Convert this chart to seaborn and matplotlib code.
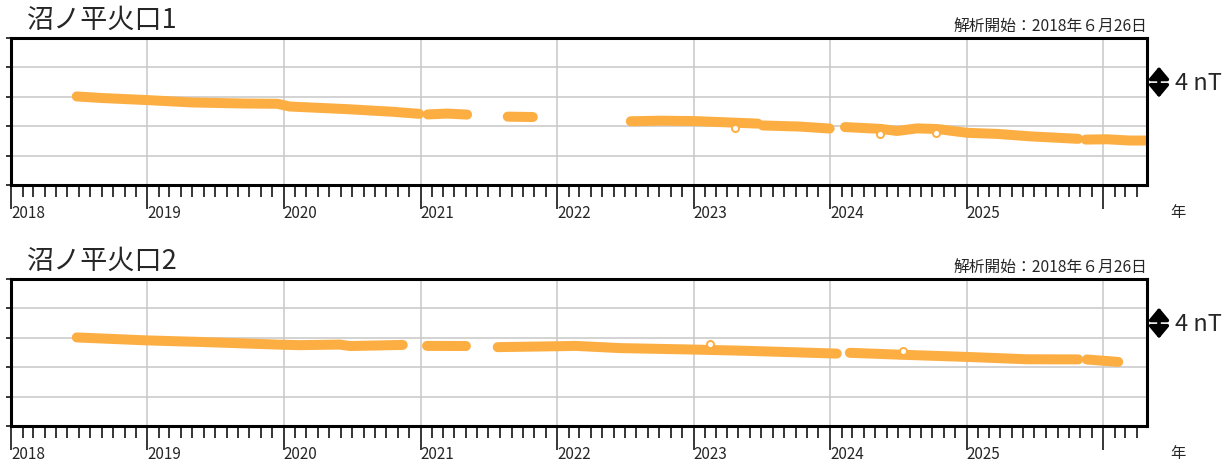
import matplotlib
matplotlib.use("Agg")
import matplotlib.pyplot as plt
import matplotlib.dates as mdates
import matplotlib.transforms as mtransforms
import numpy as np
import pandas as pd
import seaborn as sns

# ---------------- data (relative field, nT) ----------------
titles = ["沼ノ平火口1", "沼ノ平火口2"]
start_label = "解析開始：2018年６月26日"
scale_label = "4 nT"
year_ticks = ["2018-01-01", "2019-01-01", "2020-01-01", "2021-01-01", "2022-01-01",
              "2023-01-01", "2024-01-01", "2025-01-01", "2026-01-01"]
year_labels = ["2018", "2019", "2020", "2021", "2022", "2023", "2024", "2025", ""]
x_start = "2018-01-01"
x_end = "2026-04-28"

# Panel 1 (沼ノ平火口1)
p1_dates = ["2018-06-26", "2018-08-26", "2019-01-01", "2019-05-01", "2019-09-12",
            "2019-12-15", "2020-01-16", "2020-06-18", "2020-10-19", "2020-12-28",
            "2021-01-20", "2021-03-12", "2021-05-05",
            "2021-08-22", "2021-10-28",
            "2022-07-17", "2022-10-03", "2023-01-01", "2023-05-06", "2023-06-22",
            "2023-07-05", "2023-10-12", "2023-12-31",
            "2024-02-10", "2024-05-14", "2024-06-28", "2024-08-21", "2024-10-13",
            "2025-01-02", "2025-03-24", "2025-06-19", "2025-10-26",
            "2025-11-15", "2026-01-11", "2026-03-13", "2026-04-27"]
p1_values = [12.05, 11.85, 11.55, 11.23, 11.09,
             11.05, 10.68, 10.32, 9.96, 9.68,
             9.60, 9.72, 9.58,
             9.30, 9.25,
             8.67, 8.75, 8.70, 8.45, 8.35,
             8.10, 7.95, 7.68,
             7.88, 7.64, 7.35, 7.70, 7.62,
             7.10, 6.95, 6.62, 6.28,
             6.18, 6.22, 6.05, 6.05]
p1_segments = [1] * 10 + [2] * 3 + [3] * 2 + [4] * 5 + [5] * 3 + [6] * 9 + [7] * 4
p1_out_dates = ["2023-04-22", "2024-05-13", "2024-10-11"]
p1_out_values = [7.75, 6.93, 7.09]

# Panel 2 (沼ノ平火口2)
p2_dates = ["2018-06-26", "2018-12-28", "2019-05-21", "2020-01-01", "2020-02-12",
            "2020-05-29", "2020-06-26", "2020-11-14",
            "2021-01-18", "2021-05-02",
            "2021-07-26", "2022-01-01", "2022-02-18", "2022-06-18", "2023-01-01",
            "2023-05-06", "2023-09-16", "2024-01-19",
            "2024-02-23", "2024-07-07", "2025-01-01", "2025-06-11", "2025-10-26",
            "2025-11-18", "2026-02-10"]
p2_values = [12.05, 11.65, 11.44, 11.05, 11.00,
             11.08, 10.88, 11.03,
             10.90, 10.88,
             10.73, 10.85, 10.90, 10.60, 10.40,
             10.25, 10.05, 9.85,
             9.96, 9.70, 9.40, 9.08, 9.06,
             9.05, 8.72]
p2_segments = [1] * 8 + [2] * 2 + [3] * 8 + [4] * 5 + [5] * 2
p2_out_dates = ["2023-02-14", "2024-07-15"]
p2_out_values = [11.10, 10.20]

y_ticks = [0, 4, 8, 12, 16, 20]

# ---------------- style ----------------
sns.set_style("white")
plt.rcParams["font.family"] = ["Noto Sans CJK JP", "DejaVu Sans"]
ORANGE = "#FDAE42"
GRID = "#C8C8C8"

fig = plt.figure(figsize=(12.32, 4.64), dpi=100)
W, H = 1232.0, 464.0
ax_left, ax_right = 11, 1147
panel_tops = [39, 280]
panel_h = 147

panels = [
    (p1_dates, p1_values, p1_segments, p1_out_dates, p1_out_values),
    (p2_dates, p2_values, p2_segments, p2_out_dates, p2_out_values),
]

for i, (dates, vals, segs, od, ov) in enumerate(panels):
    top = panel_tops[i]
    ax = fig.add_axes([ax_left / W, 1 - (top + panel_h) / H,
                       (ax_right - ax_left) / W, panel_h / H])
    df = pd.DataFrame({"date": pd.to_datetime(dates), "value": vals, "seg": segs})
    sns.lineplot(data=df, x="date", y="value", units="seg", estimator=None,
                 sort=False, color=ORANGE, lw=7.2, ax=ax,
                 solid_capstyle="round", solid_joinstyle="round", zorder=3)
    ax.scatter(pd.to_datetime(od), ov, s=26, facecolors="white",
               edgecolors=ORANGE, linewidths=1.4, zorder=4)

    ax.set_xlim(pd.Timestamp(x_start), pd.Timestamp(x_end))
    ax.set_ylim(y_ticks[0], y_ticks[-1])
    ax.set_yticks(y_ticks)
    ax.set_yticklabels([])
    ax.set_xticks(pd.to_datetime(year_ticks))
    ax.set_xticklabels(year_labels, ha="left", fontsize=11)
    ax.xaxis.set_minor_locator(mdates.MonthLocator())
    ax.set_xlabel("")
    ax.set_ylabel("")

    ax.grid(True, which="major", color=GRID, lw=1.1, zorder=0)
    ax.set_axisbelow(True)
    for sp in ax.spines.values():
        sp.set_visible(True)
        sp.set_color("black")
        sp.set_linewidth(2.2)
        sp.set_zorder(5)

    ax.tick_params(axis="x", which="major", direction="out", length=17, width=1.1,
                   color="black", pad=-3, labelsize=11, bottom=True)
    ax.tick_params(axis="x", which="minor", direction="out", length=8.5, width=1.1,
                   color="black", bottom=True)
    ax.tick_params(axis="y", which="major", direction="out", length=3.8, width=1.1,
                   color="black", left=True)

    # titles
    ax.text((27 - ax_left) / (ax_right - ax_left), 1 + 18.5 / panel_h, titles[i],
            transform=ax.transAxes, fontsize=19.5, ha="left", va="center")
    ax.text(1.0, 1 + 13 / panel_h, start_label, transform=ax.transAxes,
            fontsize=11.3, ha="right", va="center")
    # 4 nT scale arrow
    xa = (1159 - ax_left) / (ax_right - ax_left)
    ax.annotate("", xy=(xa, 11.9), xytext=(xa, 16.1),
                xycoords=("axes fraction", "data"), textcoords=("axes fraction", "data"),
                arrowprops=dict(arrowstyle="<|-|>,head_length=0.36,head_width=0.3",
                                mutation_scale=20, lw=2.6, color="black",
                                shrinkA=0, shrinkB=0), annotation_clip=False)
    blend = mtransforms.blended_transform_factory(ax.transAxes, ax.transData)
    ax.text((1175 - ax_left) / (ax_right - ax_left), 14.0, scale_label,
            transform=blend, fontsize=17, ha="left", va="center", clip_on=False)
    # 年 label
    ax.text((1178 - ax_left) / (ax_right - ax_left), -27 / panel_h, "年",
            transform=ax.transAxes, fontsize=11, ha="center", va="center")

fig.savefig("out.png", dpi=100)
